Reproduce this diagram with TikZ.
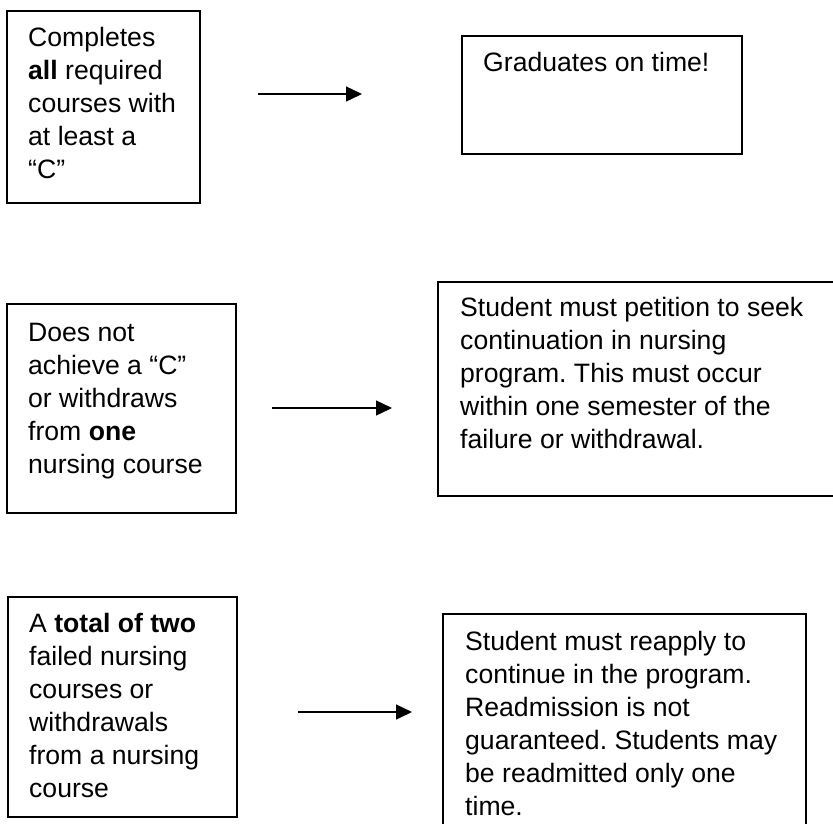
\documentclass[tikz,border=0pt]{standalone}
\usepackage{fontspec}
\setmainfont{Liberation Sans}
\usetikzlibrary{arrows.meta}
\frenchspacing
\tikzset{
  box/.style={draw=black, line width=1.8pt, rectangle, inner sep=0pt},
  txt/.style={anchor=north west, inner sep=0pt, align=left, font=\fontsize{26.6}{33}\selectfont},
  conn/.style={line width=1.4pt, -{Triangle[length=16pt,width=15pt]}}
}
\begin{document}
\begin{tikzpicture}[x=1pt,y=-1pt]
\clip (0,0) rectangle (833,823);
\fill[white] (0,0) rectangle (833,823);
% boxes
\node[box, minimum width=193pt, minimum height=192pt] (b1) at (103.5,107) {};
\node[box, minimum width=280pt, minimum height=118pt] (b2) at (602,95) {};
\node[box, minimum width=229pt, minimum height=209pt] (b3) at (121.5,408.5) {};
\node[box, minimum width=402pt, minimum height=214pt] (b4) at (639,389) {};
\node[box, minimum width=229pt, minimum height=220pt] (b5) at (122.5,707) {};
\node[box, minimum width=363pt, minimum height=216pt] (b6) at (624.5,722) {};
% texts (baseline - 23.1)
\node[txt] (t1) at (28,23.6) {\strut Completes\\\textbf{all} required\\courses with\\at least a\\“C”};
\node[txt] (t2) at (483,48.6) {\strut Graduates on time!};
\node[txt] (t3) at (28,317.9) {\strut Does not\\achieve a “C”\\or withdraws\\from \textbf{one}\\nursing course};
\node[txt] (t4) at (460,293.6) {\strut Student must petition to seek\\continuation in nursing\\program. This must occur\\within one semester of the\\failure or withdrawal.};
\node[txt] (t5) at (29,609.6) {\strut A \textbf{total of two}\\failed nursing\\courses or\\withdrawals\\from a nursing\\course};
\node[txt] (t6) at (465,626.9) {\strut Student must reapply to\\continue in the program.\\Readmission is not\\guaranteed. Students may\\be readmitted only one\\time.};
% arrows
\coordinate (a1s) at (258,94);
\coordinate (a1e) at (362,94);
\coordinate (a2s) at (272,408);
\coordinate (a2e) at (392,408);
\coordinate (a3s) at (298,712);
\coordinate (a3e) at (412,712);
\draw[conn] (a1s) -- (a1e);
\draw[conn] (a2s) -- (a2e);
\draw[conn] (a3s) -- (a3e);
\end{tikzpicture}
\end{document}
